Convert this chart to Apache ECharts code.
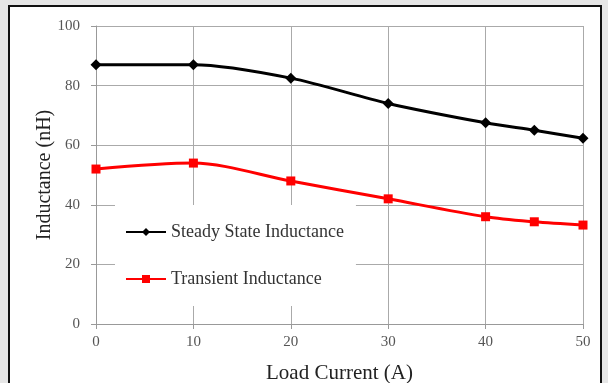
<!DOCTYPE html>
<html>
	<head>
		<meta charset="utf-8">
		<title></title>
		<script src="https://cdn.jsdelivr.net/npm/echarts@6/dist/echarts.min.js"></script>
		<style>
			body { margin: 0; background: #e6e6e6; }
			#main { position: absolute; left: 8px; top: 5px; width: 594px; height: 380px; background: #fff; border: 2px solid #111; box-sizing: border-box; }
		</style>
	</head>
	<body>
		<div id="main"></div>
		<script type="text/javascript">
			// load current (A)
			var current = [0, 10, 20, 30, 40, 45, 50];
			// inductance (nH)
			var steadyState = [87, 87, 82.5, 74, 67.5, 65, 62.3];
			var transient = [52, 54, 48, 42, 36, 34.3, 33.2];
			var yTicks = [0, 20, 40, 60, 80, 100];

			function pairs(xs, ys) {
				return xs.map(function (x, i) { return [x, ys[i]]; });
			}

			var myChart = echarts.init(document.getElementById('main'));

			var font = '"Liberation Serif", "DejaVu Serif", serif';

			var option = {
				animation: false,
				textStyle: { fontFamily: font },
				grid: { left: 86, right: 17, top: 19, bottom: 59, outerBoundsMode: 'none' },
				legend: {
					orient: 'vertical',
					left: 105,
					top: 198,
					padding: [18, 12, 18, 10],
					itemGap: 29,
					itemWidth: 40,
					itemHeight: 10,
					backgroundColor: '#fff',
					textStyle: { fontFamily: font, fontSize: 18, color: '#333' },
					data: ['Steady State Inductance', 'Transient Inductance']
				},
				xAxis: {
					type: 'value',
					name: 'Load Current (A)',
					nameLocation: 'middle',
					nameGap: 39,
					nameMoveOverlap: false,
					nameTextStyle: { fontFamily: font, fontSize: 21, color: '#222' },
					min: 0, max: 50, interval: 10,
					axisLine: { show: true, lineStyle: { color: '#999' } },
					axisTick: { show: true, length: 5, lineStyle: { color: '#999' } },
					axisLabel: { fontFamily: font, fontSize: 15, color: '#555', margin: 11 },
					splitLine: { show: true, lineStyle: { color: '#aaa' } }
				},
				yAxis: {
					type: 'value',
					name: 'Inductance (nH)',
					nameLocation: 'middle',
					nameGap: 41,
					nameMoveOverlap: false,
					nameTextStyle: { fontFamily: font, fontSize: 20, color: '#222' },
					min: yTicks[0], max: yTicks[yTicks.length - 1], interval: 20,
					axisLine: { show: true, lineStyle: { color: '#999' } },
					axisTick: { show: true, length: 5, lineStyle: { color: '#999' } },
					axisLabel: { fontFamily: font, fontSize: 15, color: '#555', margin: 16 },
					splitLine: { show: true, lineStyle: { color: '#aaa' } }
				},
				series: [
					{
						name: 'Steady State Inductance',
						type: 'line',
						data: pairs(current, steadyState),
						smooth: 0.3,
						symbol: 'diamond',
						symbolSize: 11,
						itemStyle: { color: '#000' },
						lineStyle: { color: '#000', width: 3 }
					},
					{
						name: 'Transient Inductance',
						type: 'line',
						data: pairs(current, transient),
						smooth: 0.3,
						symbol: 'rect',
						symbolSize: 9,
						itemStyle: { color: '#f00' },
						lineStyle: { color: '#f00', width: 3 }
					}
				]
			};

			myChart.setOption(option);
		</script>
	</body>
</html>
